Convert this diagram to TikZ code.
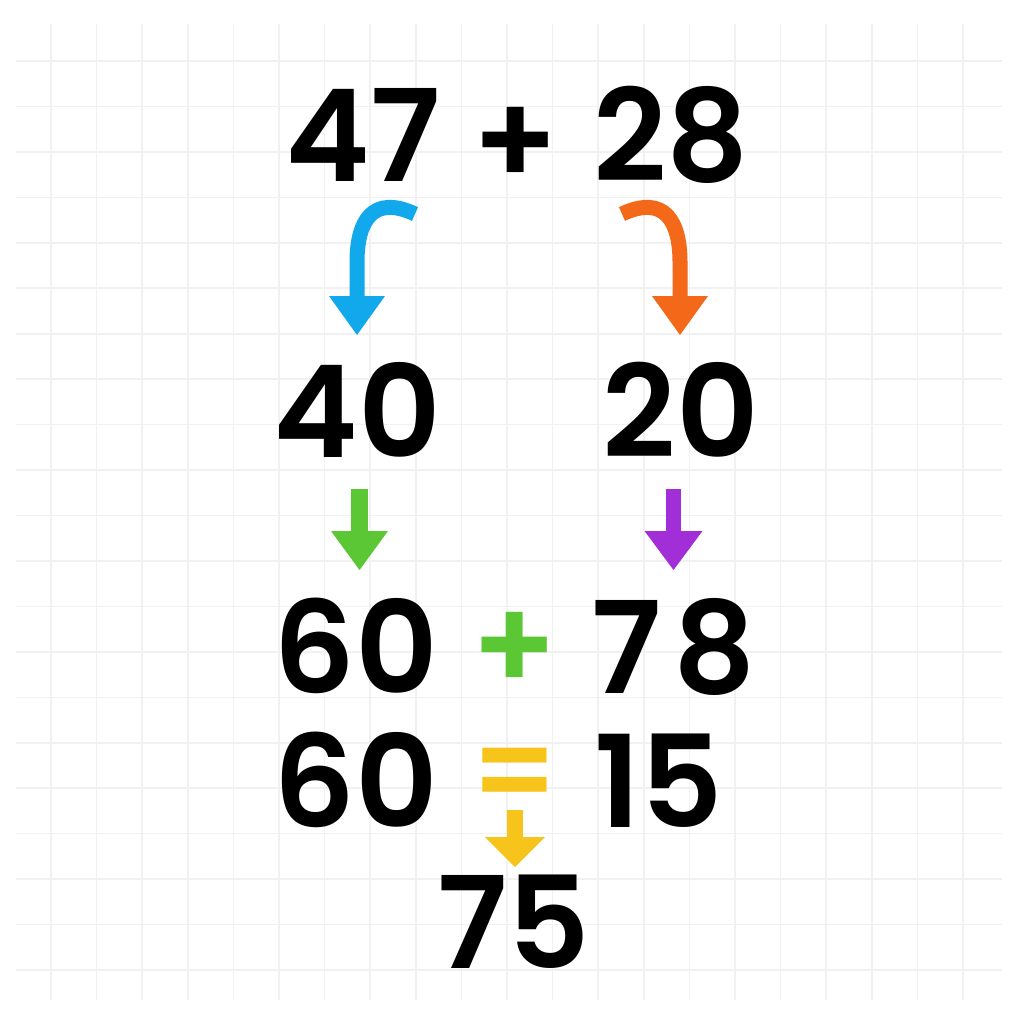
\documentclass[tikz,border=0pt]{standalone}
\usepackage{fontspec}
\setmainfont{Poppins}
\newfontfamily\popsb{Poppins}[UprightFont={* SemiBold}]
\usetikzlibrary{arrows.meta}
\definecolor{gridc}{HTML}{F1F1F1}
\definecolor{cblue}{HTML}{12A8EC}
\definecolor{corange}{HTML}{F4681A}
\definecolor{cgreen}{HTML}{5CC735}
\definecolor{cpurple}{HTML}{A22ED8}
\definecolor{cyellow}{HTML}{F7C41C}
\tikzset{
  num/.style={font=\fontsize{128}{128}\selectfont\popsb, inner sep=0pt, anchor=base, text=black},
  oper/.style={font=\fontsize{128}{128}\selectfont\popsb, inner sep=0pt, anchor=center},
}
\begin{document}
\begin{tikzpicture}[x=1pt,y=-1pt]
\useasboundingbox (0,0) rectangle (1024,1024);
\fill[white] (0,0) rectangle (1024,1024);
% grid
\foreach \k in {0,...,20}{
  \draw[gridc, line width=1.6pt] ({51+45.6*\k},24) -- ({51+45.6*\k},1000);
  \draw[gridc, line width=1.6pt] (16,{61+45.45*\k}) -- (1002,{61+45.45*\k});
}
% numbers
\node[num] (n47) at (363,182) {47};
\node[oper] (p1) at (515.5,146) {+};
\node[num] (n28) at (671,182) {28};
\node[num] (n40) at (357.5,457) {40};
\node[num] (n20) at (681,457) {20};
\node[num] (n60a) at (355.5,693) {60};
\node[oper, text=cgreen] (p2) at (515,651) {+};
\node[num] (n78) at (674,693) {7\kern12pt 8};
\node[num] (n60b) at (355.5,827) {60};
\node[oper, text=cyellow] (eq) at (515,781) {\scalebox{0.92}[0.95]{=}};
\node[num] (n15) at (659,827) {15};
\node[num] (n75) at (514,968) {75};
% arrow end points
\coordinate (bS) at (415,214);
\coordinate (bE) at (357,335);
\coordinate (oS) at (622,214);
\coordinate (oE) at (680,335);
\coordinate (gS) at (359.5,489);
\coordinate (gE) at (359.5,570);
\coordinate (pS) at (673.5,489);
\coordinate (pE) at (673.5,570);
\coordinate (yS) at (515,810);
\coordinate (yE) at (515,867);
% arrows
\draw[cblue, line width=15pt, -{Triangle[width=56pt,length=39pt,line width=0pt]}]
  (bS) .. controls (372,194) and (357,222) .. (357,262) -- (bE);
\draw[corange, line width=15pt, -{Triangle[width=56pt,length=39pt,line width=0pt]}]
  (oS) .. controls (665,194) and (680,222) .. (680,262) -- (oE);
\draw[cgreen, line width=17pt, -{Triangle[width=57pt,length=39pt,line width=0pt]}] (gS) -- (gE);
\draw[cpurple, line width=15pt, -{Triangle[width=58pt,length=39pt,line width=0pt]}] (pS) -- (pE);
\draw[cyellow, line width=16pt, -{Triangle[width=60pt,length=30pt,line width=0pt]}] (yS) -- (yE);
\end{tikzpicture}
\end{document}
